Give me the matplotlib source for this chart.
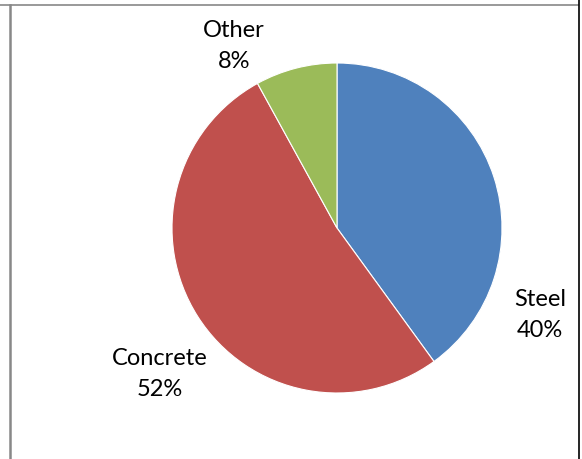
import matplotlib.pyplot as plt
from matplotlib.lines import Line2D

labels = ['Steel', 'Concrete', 'Other']
shares = [40, 52, 8]
colors = ['#4F81BD', '#C0504D', '#9BBB59']

W, H = 582, 460
fig = plt.figure(figsize=(W / 100, H / 100), dpi=100)
ax = fig.add_axes([0, 0, 1, 1])
ax.set_xlim(0, W)
ax.set_ylim(0, H)
ax.set_aspect('equal')
ax.axis('off')

ax.pie(shares, colors=colors, startangle=90, counterclock=False,
       center=(337, 231), radius=165,
       wedgeprops=dict(edgecolor='white', linewidth=0.8))
ax.set_xlim(0, W)
ax.set_ylim(0, H)

# labels placed the way the spreadsheet's best-fit put them
pos = {'Steel': (540, 145), 'Concrete': (160, 86), 'Other': (234, 414)}
for lab, v in zip(labels, shares):
    x, y = pos[lab]
    ax.text(x, y, '%s\n%d%%' % (lab, v), ha='center', va='center',
            fontsize=17, family='Lato', linespacing=1.55, color='black')

# frame lines around the chart area
fig.add_artist(Line2D([0, 578 / W], [1 - 6 / H] * 2, color='#888888', lw=1.2))
fig.add_artist(Line2D([10.5 / W] * 2, [0, 1 - 6 / H], color='#888888', lw=1.8))
fig.add_artist(Line2D([579 / W] * 2, [0, 1], color='black', lw=1.2))

fig.savefig('out.png', dpi=100)
